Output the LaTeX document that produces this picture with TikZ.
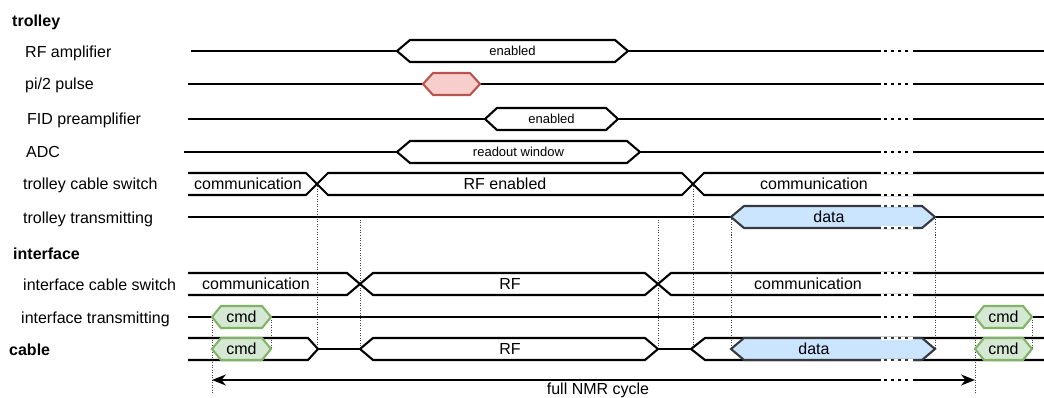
\documentclass[tikz,border=0pt]{standalone}
\usepackage{fontspec}
\setmainfont{Liberation Sans}
\usetikzlibrary{arrows.meta}

\definecolor{pulsefill}{HTML}{F8CECC}
\definecolor{pulsedraw}{HTML}{B85450}
\definecolor{datafill}{HTML}{CCE5FF}
\definecolor{datadraw}{HTML}{36393D}
\definecolor{cmdfill}{HTML}{D5E8D4}
\definecolor{cmddraw}{HTML}{82B366}

% hexagonal bus value: x1, x2, y, slope, style (half height 11)
\newcommand\hexshape[5]{%
  \draw[#5] (#1,#3) -- ({#1+#4},{#3-11}) -- ({#2-#4},{#3-11}) -- (#2,#3)
    -- ({#2-#4},{#3+11}) -- ({#1+#4},{#3+11}) -- cycle;}
% break mark on a horizontal line at height y
\newcommand\gapmark[2][black]{%
  \draw[white, line width=3pt] (881,#2) -- (913,#2);
  \draw[gapdots, #1] (884,#2) -- (910,#2);}

\begin{document}
\begin{tikzpicture}[x=1pt, y=-1pt,
  sig/.style={line width=2.1pt, line join=miter, black},
  valbox/.style={sig, fill=white},
  pulsebox/.style={line width=2.1pt, draw=pulsedraw, fill=pulsefill},
  databox/.style={line width=2.1pt, draw=datadraw, fill=datafill},
  cmdbox/.style={line width=2.1pt, draw=cmddraw, fill=cmdfill},
  gapdots/.style={line width=2.1pt, dash pattern=on 3pt off 4pt},
  vdot/.style={draw=black!75, line width=0.9pt, dash pattern=on 1pt off 1.5pt},
  rowlabel/.style={inner sep=0pt, anchor=base west, font=\fontsize{16}{19}\selectfont},
  grouplabel/.style={inner sep=0pt, anchor=base west, font=\fontsize{16}{19}\selectfont\bfseries},
  val/.style={inner sep=0pt, anchor=base, font=\fontsize{16}{19}\selectfont},
  smallval/.style={inner sep=0pt, anchor=base, font=\fontsize{13}{15}\selectfont},
  cycle/.style={line width=2.1pt, {Stealth[length=14pt,width=11pt]}-{Stealth[length=14pt,width=11pt]}}
]
\useasboundingbox (0,0) rectangle (1044,398);

% ---------------- row labels ----------------
\node[grouplabel] (gtrolley)   at (12,26.5)  {trolley};
\node[rowlabel]   (lrfamp)     at (25,57.5)  {RF amplifier};
\node[rowlabel]   (lpulse)     at (25,90)    {pi/2 pulse};
\node[rowlabel]   (lfid)       at (27,125)   {FID preamplifier};
\node[rowlabel]   (ladc)       at (26,158)   {ADC};
\node[rowlabel]   (ltswitch)   at (23,190)   {trolley cable switch};
\node[rowlabel]   (lttx)       at (23,223)   {trolley transmitting};
\node[grouplabel] (ginterface) at (13,259)   {interface};
\node[rowlabel]   (liswitch)   at (23,290)   {interface cable switch};
\node[rowlabel]   (litx)       at (21,323)   {interface transmitting};
\node[grouplabel] (gcable)     at (9,355)    {cable};

% ---------------- timing marks ----------------
\coordinate (cmdL)  at (212,317);
\coordinate (cmdR)  at (271,317);
\coordinate (tsw1)  at (317,184);
\coordinate (isw1)  at (360,220);
\coordinate (isw2)  at (658,220);
\coordinate (tsw2)  at (693,184);
\coordinate (datL)  at (731,217);
\coordinate (datR)  at (935,217);
\coordinate (cmd2L) at (975,317);
\coordinate (cmd2R) at (1032,317);

\draw[vdot] (cmdL)  -- (212,394);
\draw[vdot] (cmdR)  -- (271,349);
\draw[vdot] (tsw1)  -- (317,349);
\draw[vdot] (isw1)  -- (360,349);
\draw[vdot] (isw2)  -- (658,349);
\draw[vdot] (tsw2)  -- (693,349);
\draw[vdot] (datL)  -- (731,349);
\draw[vdot] (datR)  -- (935,349);
\draw[vdot] (cmd2L) -- (975,394);
\draw[vdot] (cmd2R) -- (1032,349);

% ---------------- trolley ----------------
% RF amplifier
\draw[sig] (191,51) -- (1044,51);
\gapmark{51}
\hexshape{397}{628}{51}{13}{valbox}
\node[smallval] (vrfamp) at (512.5,55.5) {enabled};

% pi/2 pulse
\draw[sig] (188,84) -- (1044,84);
\gapmark{84}
\hexshape{423}{480}{84}{10}{pulsebox}

% FID preamplifier
\draw[sig] (188,119) -- (1044,119);
\gapmark{119}
\hexshape{485}{618}{119}{12}{valbox}
\node[smallval] (vfid) at (551.5,123.5) {enabled};

% ADC
\draw[sig] (184,152) -- (1044,152);
\gapmark{152}
\hexshape{397}{640}{152}{13}{valbox}
\node[smallval] (vadc) at (518.5,156.5) {readout window};

% trolley cable switch
\draw[sig] (188,173) -- (306,173) -- (328,195) -- (682,195) -- (704,173) -- (1044,173);
\draw[sig] (188,195) -- (306,195) -- (328,173) -- (682,173) -- (704,195) -- (1044,195);
\gapmark{173}
\gapmark{195}
\node[val] (vts1) at (248,189.8) {communication};
\node[val] (vts2) at (505,189.8) {RF enabled};
\node[val] (vts3) at (814,189.8) {communication};

% trolley transmitting
\draw[sig] (188,217) -- (1044,217);
\hexshape{731}{935}{217}{13}{databox}
\gapmark[datadraw]{206}
\gapmark[datadraw]{228}
\node[val] (vttx) at (829,222.8) {data};

% ---------------- interface ----------------
% interface cable switch
\draw[sig] (188,273) -- (347,273) -- (373,295) -- (645,295) -- (671,273) -- (1044,273);
\draw[sig] (188,295) -- (347,295) -- (373,273) -- (645,273) -- (671,295) -- (1044,295);
\gapmark{273}
\gapmark{295}
\node[val] (vis1) at (256,289.8) {communication};
\node[val] (vis2) at (510,289.8) {RF};
\node[val] (vis3) at (808,289.8) {communication};

% interface transmitting
\draw[sig] (188,317) -- (1044,317);
\gapmark{317}
\hexshape{212}{271}{317}{9}{cmdbox}
\hexshape{975}{1032}{317}{9}{cmdbox}
\node[val] (vitx1) at (241.5,322.8) {cmd};
\node[val] (vitx2) at (1003.5,322.8) {cmd};

% ---------------- cable ----------------
\draw[sig] (188,338) -- (308,338) -- (318,349) -- (308,360) -- (188,360);
\draw[sig] (318,349) -- (360,349);
\draw[sig] (360,349) -- (373,338) -- (645,338) -- (658,349) -- (645,360) -- (373,360) -- cycle;
\draw[sig] (658,349) -- (691,349);
\draw[sig] (1044,338) -- (705,338) -- (691,349) -- (705,360) -- (1044,360);
\hexshape{731}{935}{349}{13}{databox}
\gapmark[datadraw]{338}
\gapmark[datadraw]{360}
\hexshape{212}{271}{349}{9}{cmdbox}
\hexshape{975}{1032}{349}{9}{cmdbox}
\node[val] (vc1) at (241.5,354.8) {cmd};
\node[val] (vc2) at (510,354.8) {RF};
\node[val] (vc3) at (814,354.8) {data};
\node[val] (vc4) at (1003.5,354.8) {cmd};

% ---------------- full cycle ----------------
\coordinate (cycA) at (212,380);
\coordinate (cycB) at (975,380);
\draw[cycle] (cycA) -- (cycB);
\gapmark{380}
\node[val] (lcycle) at (598,394) {full NMR cycle};
\end{tikzpicture}
\end{document}
